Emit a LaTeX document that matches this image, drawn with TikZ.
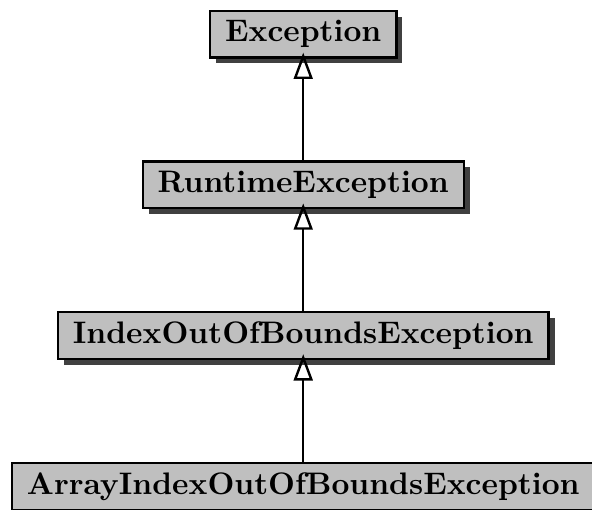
\documentclass[tikz,border=0pt]{standalone}
\usepackage{tikz}
\usetikzlibrary{shapes, shadows, arrows.meta, positioning}

\begin{document}
\begin{tikzpicture}[
		thick,
		ClassCfg/.style={
			draw,
			fill=black!25,
			font=\fontsize{10.4}{12.5}\selectfont\bfseries,
			inner xsep=5pt,
			inner ysep=3pt,
			minimum height=15.6pt,
			drop shadow={shadow xshift=2pt, shadow yshift=-2pt,
				fill=black!75, opacity=1}
		},
		Inherit/.style={
			-{Triangle[open, length=8.8pt, width=6.3pt]},
			shorten >=-2pt
		}
		]
		
		\useasboundingbox (-3.56,0.40) rectangle (3.39,-5.58);
		
		\path 
		(0,0) node [ClassCfg] (Exc) {Exception}
		++ (0,-1.77) node [ClassCfg] (RtExc) {RuntimeException}
		++ (0,-1.77) node [ClassCfg] (IoobExc) {IndexOutOfBoundsException}
		++ (0,-1.77) node [ClassCfg] (AioobExc) {ArrayIndexOutOfBoundsException};
		
		\draw [Inherit] (RtExc.north) -- (Exc.south);
		\draw [Inherit] (IoobExc.north) -- (RtExc.south);
		\draw [Inherit] (AioobExc.north) -- (IoobExc.south);
		\end{tikzpicture}
\end{document}
